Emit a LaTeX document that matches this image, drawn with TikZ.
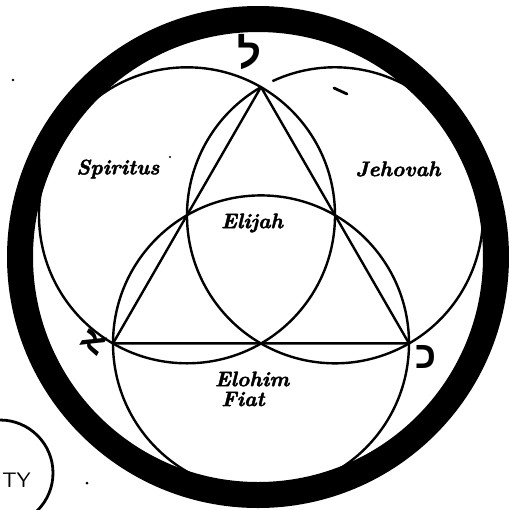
\documentclass[tikz,border=0pt]{standalone}
\usepackage{fontspec}
\newfontfamily\hebfont[Script=Hebrew]{Liberation Sans}
\newfontfamily\heavyital{lmroman10-bolditalic.otf}[FakeBold=2]
\usetikzlibrary{positioning}

\begin{document}
\begin{tikzpicture}[
        x=0.5pt,
        y=-0.5pt,
        ring/.style={line width=13pt, black},
        circ/.style={line width=1.2pt},
        tri/.style={line width=1.2pt, line join=round},
        wordtag/.style={font=\heavyital\fontsize{10.5}{12}\selectfont, inner sep=0pt},
        hebletter/.style={font=\hebfont\bfseries, inner sep=0pt},
        speck/.style={fill=black}
    ]
        \useasboundingbox (0,0) rectangle (510,510);
        \clip (0,0) rectangle (510,510);

        % Outer dark ring.
        \draw[ring] (258,257) circle[radius=238];

        % Centres of the three circles and the triangle corners.
        \coordinate (cspir) at (187,215.3);
        \coordinate (cjeho) at (335,215.3);
        \coordinate (celoh) at (261,343.4);
        \coordinate (top) at (261,87);
        \coordinate (left) at (113,343.4);
        \coordinate (right) at (409,343.4);

        \draw[circ] (cspir) circle[radius=148];
        \draw[circ] (celoh) circle[radius=148];
        \draw[circ] (cjeho) ++(-115:148) arc[start angle=-115, end angle=240, radius=148];
        \draw[tri] (top) -- (left) -- (right) -- cycle;

        % Names in the fields.
        \node[wordtag] (spiritus) at (118,169) {Spiritus};
        \node[wordtag] (jehovah) at (398,169) {Jehovah};
        \node[wordtag] (elijah) at (252,223) {Elijah};
        \node[wordtag] (elohim) at (252,379) {Elohim};
        \node[wordtag] (fiat) at (243,399) {Fiat};

        % Letters at the corners.
        \node[hebletter, font=\hebfont\bfseries\fontsize{21}{21}\selectfont] (lamed) at (250,52) {ל};
        \node[hebletter, font=\hebfont\bfseries\fontsize{19}{19}\selectfont] (kaf) at (426,357) {כ};
        \node[hebletter, font=\hebfont\bfseries\fontsize{17}{17}\selectfont, rotate=60] (aleph) at (93,342) {א};

        % Marks of the print.
        \draw[line width=1.4pt, line cap=round] (334,88) -- (347,94);
        \fill[speck] (13,80) circle[radius=1.3];
        \fill[speck] (170,157) circle[radius=1.1];
        \fill[speck] (87,483) circle[radius=1.5];

        % Stamp cut by the edge.
        \draw[line width=1.4pt] (0,473) circle[radius=53];
        \node[font=\sffamily\fontsize{10.5}{11}\selectfont, anchor=west, inner sep=0pt] (stamp) at (2,480) {TY};
    \end{tikzpicture}
\end{document}
